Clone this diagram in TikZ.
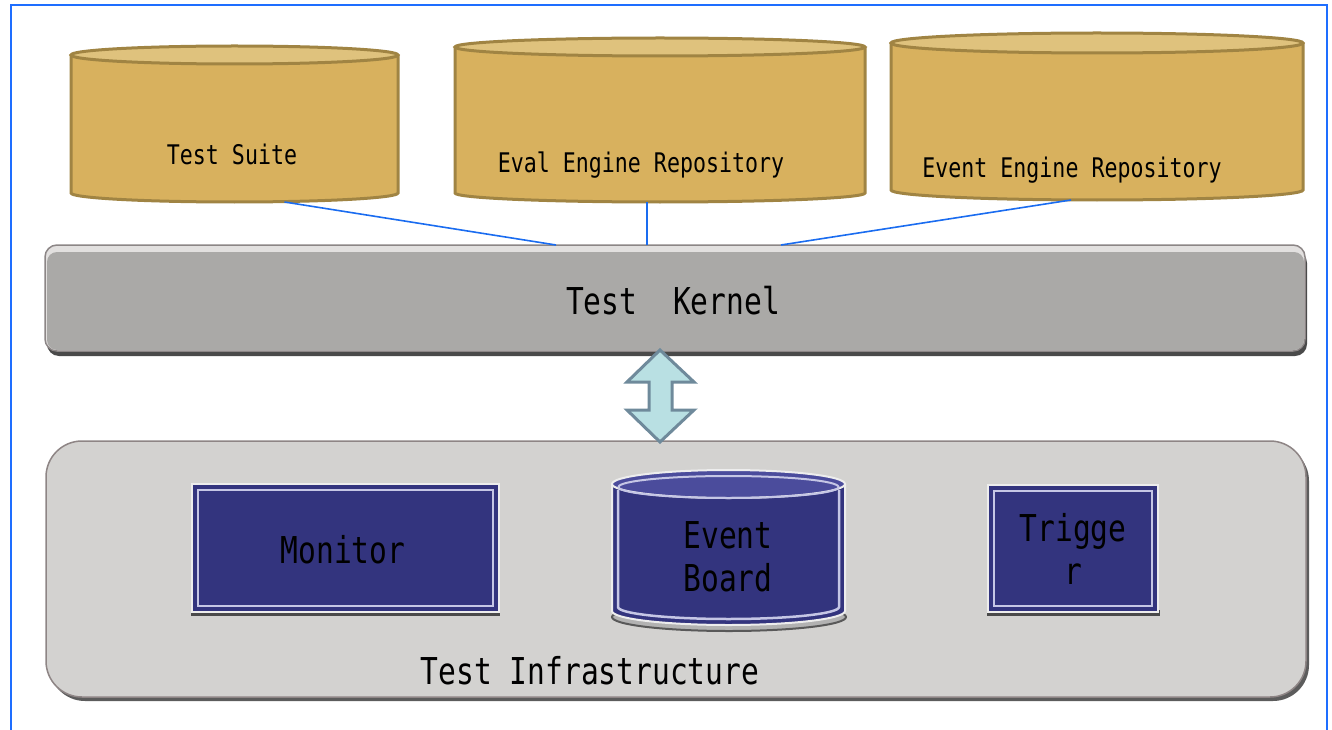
\documentclass[tikz,border=0pt]{standalone}
\usepackage{fontspec}
\setmainfont{DejaVu Sans Mono}[FakeStretch=0.8]
\usetikzlibrary{calc}
\definecolor{framec}{HTML}{1E6EFF}
\definecolor{linkc}{HTML}{1A6CF0}
\definecolor{cylfill}{HTML}{D8B15E}
\definecolor{cyltop}{HTML}{DFC27D}
\definecolor{cylline}{HTML}{A08443}
\definecolor{kernfill}{HTML}{AAA9A7}
\definecolor{kernhi}{HTML}{E2E0DF}
\definecolor{kernline}{HTML}{8C8686}
\definecolor{shadowc}{HTML}{4A4A4A}
\definecolor{infrafill}{HTML}{D3D2D0}
\definecolor{infraline}{HTML}{8E8585}
\definecolor{boxfill}{HTML}{33347E}
\definecolor{boxtop}{HTML}{4B4C9C}
\definecolor{boxline}{HTML}{C5C6E5}
\definecolor{arrfill}{HTML}{B9E0E3}
\definecolor{arrline}{HTML}{6F8A9B}
\begin{document}
\begin{tikzpicture}[x=1pt,y=-1pt,
  smalltext/.style={font=\fontsize{27}{32}\selectfont, inner sep=0},
  bigtext/.style={font=\fontsize{37}{43}\selectfont, inner sep=0, align=center},
  area/.style={inner sep=0, outer sep=0},
  cylbody/.style={fill=cylfill},
  cylrim/.style={draw=cylline, line width=3pt},
  link/.style={draw=linkc, line width=1.6pt},
  innerbox/.style={draw=boxline, line width=2.5pt},
  outerbox/.style={draw=white!93!black, fill=boxfill, line width=2pt}]
\useasboundingbox (0,0) rectangle (1332,730);
\clip (0,0) rectangle (1332,730);
% frame
\draw[framec, line width=2pt] (11,5) rectangle (1327,760);

% ---------- cylinders (top row) ----------
% Test Suite
\fill[cylbody] (71,55) -- (71,193) arc[start angle=180,end angle=0,x radius=163.5,y radius=9] -- (398,55) -- cycle;
\draw[cylrim] (71,55) -- (71,193) arc[start angle=180,end angle=0,x radius=163.5,y radius=9] -- (398,55);
\draw[cylrim, fill=cyltop] (234.5,55) ellipse[x radius=163.5, y radius=9];
\node[area, minimum width=327, minimum height=156] (ts) at (234.5,124) {};
\node[smalltext] (tst) at (232,154) {Test Suite};
% Eval Engine Repository
\fill[cylbody] (455,47) -- (455,193) arc[start angle=180,end angle=0,x radius=205,y radius=9] -- (865,47) -- cycle;
\draw[cylrim] (455,47) -- (455,193) arc[start angle=180,end angle=0,x radius=205,y radius=9] -- (865,47);
\draw[cylrim, fill=cyltop] (660,47) ellipse[x radius=205, y radius=9];
\node[area, minimum width=410, minimum height=164] (ev) at (660,120) {};
\node[smalltext] (evt) at (641,165) {Eval Engine Repository};
% Event Engine Repository
\fill[cylbody] (891,43) -- (891,190) arc[start angle=180,end angle=0,x radius=206,y radius=10] -- (1303,43) -- cycle;
\draw[cylrim] (891,43) -- (891,190) arc[start angle=180,end angle=0,x radius=206,y radius=10] -- (1303,43);
\draw[cylrim, fill=cyltop] (1097,43) ellipse[x radius=206, y radius=10];
\node[area, minimum width=412, minimum height=168] (ee) at (1097,116) {};
\node[smalltext] (eet) at (1072,170) {Event Engine Repository};

% ---------- Test Kernel ----------
\fill[shadowc, rounded corners=12pt] (47,251) rectangle (1307,356);
\draw[kernline, fill=kernhi, line width=1.5pt, rounded corners=12pt] (45,245) rectangle (1305,351);
\fill[kernfill, rounded corners=10pt] (47,252) rectangle (1304,350);
\node[area, minimum width=1260, minimum height=106] (tk) at (675,298) {};
\node[bigtext] (tkt) at (673,301) {Test\ \ Kernel};

% links
\draw[link] ($(ts.south)+(50,0)$) -- ($(tk.north)+(-119,0)$);
\draw[link] ($(ev.south)+(-13,0)$) -- ($(tk.north)+(-28,0)$);
\draw[link] ($(ee.south)+(-26,0)$) -- ($(tk.north)+(106,0)$);

% ---------- Test Infrastructure ----------
\fill[shadowc!90!white, rounded corners=36pt] (49,445) rectangle (1309,701);
\draw[infraline, fill=infrafill, line width=1.5pt, rounded corners=36pt] (46,441) rectangle (1306,697);
\node[area, minimum width=1260, minimum height=256] (ti) at (676,569) {};
\node[bigtext] (tit) at (590,671) {Test Infrastructure};

% double arrow
\draw[arrline, fill=arrfill, line width=3pt, line join=miter]
  (660,350) -- (694,382) -- (672,382) -- (672,410) -- (694,410) -- (660,442)
  -- (627,410) -- (649,410) -- (649,382) -- (627,382) -- cycle;

% Monitor
\fill[shadowc] (191,610) rectangle (500,616);
\draw[outerbox] (192,484) rectangle (499,612);
\draw[innerbox] (198,490) rectangle (493,606);
\node[area, minimum width=307, minimum height=128] (mon) at (345.5,548) {};
\node[bigtext] (mont) at (343,550) {Monitor};

% Trigger
\fill[shadowc] (987,610) rectangle (1160,616);
\draw[outerbox] (988,485) rectangle (1158,612);
\draw[innerbox] (994,491) rectangle (1152,606);
\node[area, minimum width=170, minimum height=127] (trg) at (1073,548.5) {};
\node[bigtext] (trgt) at (1073,549) {Trigge\\r};

% Event Board cylinder
\draw[gray!70!black, line width=2pt, fill=gray!60] (729,617) ellipse[x radius=117, y radius=14];
\fill[boxfill] (612,484) -- (612,611) arc[start angle=180,end angle=0,x radius=116.5,y radius=14] -- (845,484) -- cycle;
\draw[white!93!black, line width=2pt] (612,484) -- (612,611) arc[start angle=180,end angle=0,x radius=116.5,y radius=14] -- (845,484);
\draw[boxline, line width=2.5pt] (618,490) -- (618,607) arc[start angle=180,end angle=0,x radius=110.5,y radius=12] -- (839,490);
\draw[white!93!black, fill=boxtop, line width=2pt] (728.5,484) ellipse[x radius=116.5, y radius=14];
\draw[boxline, line width=2pt] (728.5,487) ellipse[x radius=110, y radius=11];
\node[area, minimum width=233, minimum height=160] (eb) at (728.5,547) {};
\node[bigtext] (ebt) at (728,557) {Event\\Board};
\end{tikzpicture}
\end{document}
